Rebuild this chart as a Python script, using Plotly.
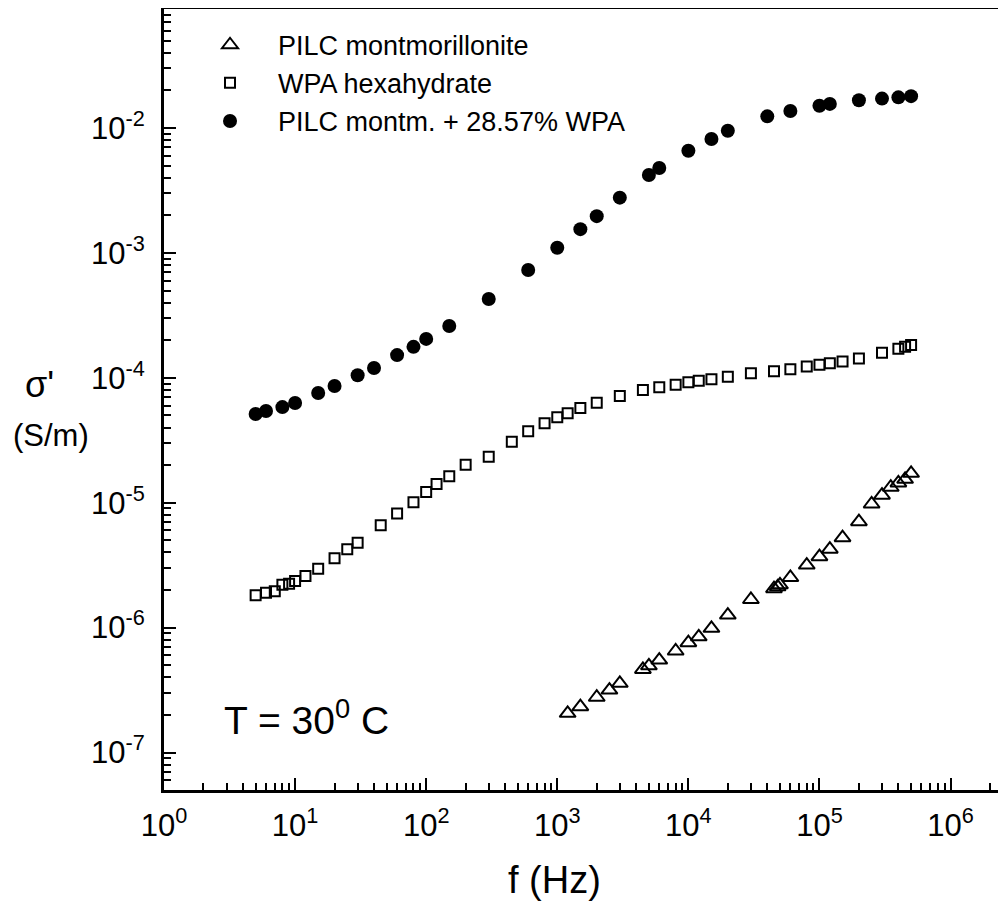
import plotly.graph_objects as go

# ---- data ----
f_pilc = [1200, 1500, 2000, 2500, 3000, 4500, 5000, 6000, 8000, 10000, 12000, 15000,
          20000, 30000, 45000, 48000, 50000, 60000, 80000, 100000, 120000, 150000,
          200000, 250000, 300000, 350000, 400000, 450000, 500000]
s_pilc = [2.06e-7, 2.33e-7, 2.77e-7, 3.16e-7, 3.58e-7, 4.63e-7, 4.95e-7, 5.5e-7, 6.5e-7,
          7.57e-7, 8.45e-7, 9.87e-7, 1.26e-6, 1.68e-6, 2.05e-6, 2.12e-6, 2.2e-6, 2.52e-6,
          3.17e-6, 3.70e-6, 4.25e-6, 5.25e-6, 7.05e-6, 9.77e-6, 1.15e-5, 1.33e-5, 1.44e-5,
          1.54e-5, 1.72e-5]

f_wpa = [5, 6, 7, 8, 9, 10, 12, 15, 20, 25, 30, 45, 60, 80, 100, 120, 150, 200, 300, 450,
         600, 800, 1000, 1200, 1500, 2000, 3000, 4500, 6000, 8000, 10000, 12000, 15000,
         20000, 30000, 45000, 60000, 80000, 100000, 120000, 150000, 200000, 300000,
         400000, 450000, 500000]
s_wpa = [1.82e-6, 1.90e-6, 1.96e-6, 2.2e-6, 2.25e-6, 2.36e-6, 2.59e-6, 2.96e-6, 3.59e-6,
         4.24e-6, 4.78e-6, 6.6e-6, 8.2e-6, 1.01e-5, 1.22e-5, 1.41e-5, 1.63e-5, 2.01e-5,
         2.33e-5, 3.08e-5, 3.73e-5, 4.33e-5, 4.83e-5, 5.20e-5, 5.73e-5, 6.32e-5, 7.14e-5,
         7.98e-5, 8.39e-5, 8.81e-5, 9.2e-5, 9.48e-5, 9.73e-5, 1.02e-4, 1.09e-4, 1.13e-4,
         1.17e-4, 1.23e-4, 1.27e-4, 1.31e-4, 1.35e-4, 1.43e-4, 1.59e-4, 1.71e-4, 1.77e-4,
         1.83e-4]

f_comp = [5, 6, 8, 10, 15, 20, 30, 40, 60, 80, 100, 150, 300, 600, 1000, 1500, 2000, 3000,
          5000, 6000, 10000, 15000, 20000, 40000, 60000, 100000, 120000, 200000, 300000,
          400000, 500000]
s_comp = [5.13e-5, 5.42e-5, 5.83e-5, 6.28e-5, 7.55e-5, 8.59e-5, 1.05e-4, 1.20e-4, 1.52e-4,
          1.77e-4, 2.05e-4, 2.60e-4, 4.28e-4, 7.30e-4, 1.10e-3, 1.55e-3, 1.97e-3, 2.77e-3,
          4.21e-3, 4.79e-3, 6.58e-3, 8.16e-3, 9.51e-3, 1.24e-2, 1.37e-2, 1.51e-2, 1.56e-2,
          1.67e-2, 1.72e-2, 1.76e-2, 1.80e-2]

names = ["PILC montmorillonite", "WPA hexahydrate", "PILC montm. + 28.57% WPA"]

x_exps = [0, 1, 2, 3, 4, 5, 6]
y_exps = [-7, -6, -5, -4, -3, -2]

FONT = "Liberation Sans, Arial, sans-serif"

fig = go.Figure()
fig.add_trace(go.Scatter(x=f_pilc, y=s_pilc, mode="markers", name=names[0],
                         marker=dict(symbol="triangle-up-open", size=14, color="black",
                                     line=dict(width=2, color="black"))))
fig.add_trace(go.Scatter(x=f_wpa, y=s_wpa, mode="markers", name=names[1],
                         marker=dict(symbol="square-open", size=10, color="black",
                                     line=dict(width=2, color="black"))))
fig.add_trace(go.Scatter(x=f_comp, y=s_comp, mode="markers", name=names[2],
                         marker=dict(symbol="circle", size=14, color="black",
                                     line=dict(width=0))))

x_major = [10.0 ** e for e in x_exps]
x_minor = [m * 10.0 ** e for e in range(0, 7) for m in range(2, 10)]
y_major = [10.0 ** e for e in y_exps]
y_minor = [m * 10.0 ** e for e in range(-8, -1) for m in range(2, 10)]

fig.update_xaxes(type="log", range=[0, 6.423], showgrid=False, zeroline=False,
                 showline=True, linecolor="black", linewidth=3, mirror=True,
                 ticks="inside", ticklen=12, tickwidth=2, tickcolor="black",
                 tickmode="array", tickvals=x_major,
                 ticktext=["10<sup>%d</sup>" % e for e in x_exps],
                 tickfont=dict(family=FONT, size=31, color="black"),
                 minor=dict(tickmode="array", tickvals=x_minor, ticks="inside",
                            ticklen=7, tickwidth=2, tickcolor="black", showgrid=False),
                 automargin=False, ticklabelstandoff=6)
fig.update_yaxes(type="log", range=[-7.300, -1.047], showgrid=False, zeroline=False,
                 showline=True, linecolor="black", linewidth=3, mirror=False,
                 ticks="inside", ticklen=12, tickwidth=2, tickcolor="black",
                 tickmode="array", tickvals=y_major,
                 ticktext=["10<sup>%d</sup>" % e for e in y_exps],
                 tickfont=dict(family=FONT, size=31, color="black"),
                 minor=dict(tickmode="array", tickvals=y_minor, ticks="inside",
                            ticklen=7, tickwidth=2, tickcolor="black", showgrid=False),
                 automargin=False, ticklabelstandoff=10)

fig.update_layout(
    width=998, height=906,
    margin=dict(l=156, r=0, t=1, b=124, autoexpand=False),
    plot_bgcolor="white", paper_bgcolor="white",
    font=dict(family=FONT, color="black"),
    showlegend=True,
    legend=dict(x=0.0214, y=0.985, xanchor="left", yanchor="top",
                bgcolor="rgba(0,0,0,0)", borderwidth=0,
                font=dict(family=FONT, size=27, color="black"),
                itemwidth=86, tracegroupgap=0),
    annotations=[
        dict(text="f (Hz)", xref="paper", yref="paper", x=0.464, y=-0.1152,
             xanchor="center", yanchor="middle", showarrow=False,
             font=dict(family=FONT, size=38, color="black")),
        dict(text="σ'", xref="paper", yref="paper", x=-0.1480, y=0.5186,
             xanchor="center", yanchor="middle", showarrow=False,
             font=dict(family=FONT, size=36, color="black")),
        dict(text="(S/m)", xref="paper", yref="paper", x=-0.1345, y=0.4545,
             xanchor="center", yanchor="middle", showarrow=False,
             font=dict(family=FONT, size=31, color="black")),
        dict(text="T = 30<sup>0</sup> C", xref="paper", yref="paper", x=0.0689, y=0.0922,
             xanchor="left", yanchor="middle", showarrow=False,
             font=dict(family=FONT, size=39, color="black")),
    ],
)

fig.write_html("out.html")
